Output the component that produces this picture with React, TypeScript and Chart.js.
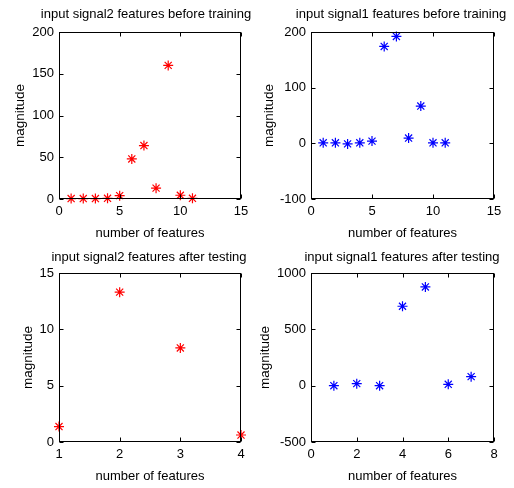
import React, { useEffect, useRef } from "react";
import { Chart, registerables } from "chart.js";
Chart.register(...registerables);

// ---- data ----
const sig2TrainX = [1, 2, 3, 4, 5, 6, 7, 8, 9, 10, 11];
const sig2TrainY = [0.5, 0.5, 0.5, 0.8, 4, 48, 64, 13, 160, 4.5, 0.8];
const sig1TrainX = [1, 2, 3, 4, 5, 6, 7, 8, 9, 10, 11];
const sig1TrainY = [1, 1, -1, 1, 4, 174, 192, 9.5, 67, 1, 1];
const sig2TestX = [1, 2, 3, 4];
const sig2TestY = [1.37, 13.3, 8.35, 0.62];
const sig1TestX = [1, 2, 3, 4, 5, 6, 7];
const sig1TestY = [0, 18, 0, 705, 876, 12, 80];

const titles = [
  "input signal2 features before training",
  "input signal1 features before training",
  "input signal2 features after testing",
  "input signal1 features after testing",
];
const xLabel = "number of features";
const yLabel = "magnitude";

const FONT = "'Liberation Sans', Arial, sans-serif";

const boxPlugin = {
  id: "matlabBox",
  afterDatasetsDraw(chart: any) {
    const { ctx, chartArea: a, scales } = chart;
    const L = Math.round(a.left) + 0.5;
    const R = Math.round(a.right) - 0.5;
    const T = Math.round(a.top) + 0.5;
    const B = Math.round(a.bottom) - 0.5;
    ctx.save();
    ctx.strokeStyle = "#000";
    ctx.lineWidth = 1;
    ctx.strokeRect(L, T, R - L, B - T);
    const tl = 4;
    ctx.beginPath();
    for (const t of scales.x.ticks) {
      const px = Math.round(scales.x.getPixelForValue(t.value)) + 0.5;
      ctx.moveTo(px, B);
      ctx.lineTo(px, B - tl);
      ctx.moveTo(px, T);
      ctx.lineTo(px, T + tl);
    }
    for (const t of scales.y.ticks) {
      const py = Math.round(scales.y.getPixelForValue(t.value)) + 0.5;
      ctx.moveTo(L, py);
      ctx.lineTo(L + tl, py);
      ctx.moveTo(R, py);
      ctx.lineTo(R - tl, py);
    }
    ctx.stroke();
    ctx.restore();
  },
};

type PanelProps = {
  xs: number[];
  ys: number[];
  color: string;
  title: string;
  xMin: number;
  xMax: number;
  xStep: number;
  yMin: number;
  yMax: number;
  yStep: number;
  left: number;
  right: number;
  top: number;
  bottom: number;
  titleX: number;
  titleY: number;
  yTitleX: number;
  xTitleOffset: number;
  posX: number;
  posY: number;
};

function Panel(p: PanelProps) {
  const ref = useRef<HTMLCanvasElement>(null);
  useEffect(() => {
    if (!ref.current) return;
    const titlePlugin = {
      id: "panelTitle",
      afterDraw(chart: any) {
        const ctx = chart.ctx;
        ctx.save();
        ctx.fillStyle = "#000";
        ctx.font = `13px ${FONT}`;
        ctx.textAlign = "center";
        ctx.textBaseline = "middle";
        ctx.fillText(p.title, p.titleX, p.titleY);
        ctx.restore();
      },
    };
    const chart = new Chart(ref.current, {
      type: "scatter",
      data: {
        datasets: [
          {
            data: p.xs.map((x, i) => ({ x, y: p.ys[i] })),
            pointStyle: "star",
            pointRadius: 5,
            pointBorderWidth: 1.2,
            borderColor: p.color,
            backgroundColor: p.color,
            clip: false,
          } as any,
        ],
      },
      options: {
        animation: false,
        responsive: false,
        layout: { padding: { left: 0, right: p.right, top: p.top, bottom: 0 } },
        plugins: {
          legend: { display: false },
          tooltip: { enabled: false },
          title: { display: false },
        },
        scales: {
          x: {
            type: "linear",
            min: p.xMin,
            max: p.xMax,
            ticks: {
              stepSize: p.xStep,
              color: "#000",
              font: { family: FONT, size: 13 },
              padding: 5,
              maxRotation: 0,
              autoSkip: false,
              callback: (v: any) => String(v),
            },
            grid: { display: false, drawTicks: false },
            border: { display: false },
            title: {
              display: true,
              text: xLabel,
              color: "#000",
              font: { family: FONT, size: 13 },
              padding: { top: 0, bottom: p.xTitleOffset - 7.8 },
            },
            afterFit: (s: any) => {
              s.height = p.bottom;
            },
          },
          y: {
            type: "linear",
            min: p.yMin,
            max: p.yMax,
            ticks: {
              stepSize: p.yStep,
              color: "#000",
              font: { family: FONT, size: 13 },
              padding: 5,
              callback: (v: any) => String(v),
            },
            grid: { display: false, drawTicks: false },
            border: { display: false },
            title: {
              display: true,
              text: yLabel,
              color: "#000",
              font: { family: FONT, size: 13.5 },
              padding: { top: Math.max(p.yTitleX - 8.1, 0), bottom: 0 },
            },
            afterFit: (s: any) => {
              s.width = p.left;
            },
          },
        },
      } as any,
      plugins: [boxPlugin, titlePlugin],
    });
    return () => chart.destroy();
  }, []);
  return (
    <canvas
      ref={ref}
      width={257}
      height={244}
      style={{ position: "absolute", left: p.posX, top: p.posY, width: 257, height: 244 }}
    />
  );
}

export default function App() {
  return (
    <div style={{ position: "fixed", left: 0, top: 0, width: 514, height: 488, background: "#fff" }}>
      <Panel
        xs={sig2TrainX} ys={sig2TrainY} color="#ff0000" title={titles[0]}
        xMin={0} xMax={15} xStep={5} yMin={0} yMax={200} yStep={50}
        left={59} right={16} top={32} bottom={45}
        titleX={146} titleY={14} yTitleX={20} xTitleOffset={11} posX={0} posY={0}
      />
      <Panel
        xs={sig1TrainX} ys={sig1TrainY} color="#0000ff" title={titles[1]}
        xMin={0} xMax={15} xStep={5} yMin={-100} yMax={200} yStep={100}
        left={54} right={20} top={32} bottom={45}
        titleX={144} titleY={14} yTitleX={12} xTitleOffset={11} posX={257} posY={0}
      />
      <Panel
        xs={sig2TestX} ys={sig2TestY} color="#ff0000" title={titles[2]}
        xMin={1} xMax={4} xStep={1} yMin={0} yMax={15} yStep={5}
        left={59} right={16} top={29} bottom={46}
        titleX={149} titleY={13.3} yTitleX={28} xTitleOffset={12} posX={0} posY={244}
      />
      <Panel
        xs={sig1TestX} ys={sig1TestY} color="#0000ff" title={titles[3]}
        xMin={0} xMax={8} xStep={2} yMin={-500} yMax={1000} yStep={500}
        left={54} right={20} top={29} bottom={46}
        titleX={145} titleY={13.3} yTitleX={8} xTitleOffset={12} posX={257} posY={244}
      />
    </div>
  );
}
